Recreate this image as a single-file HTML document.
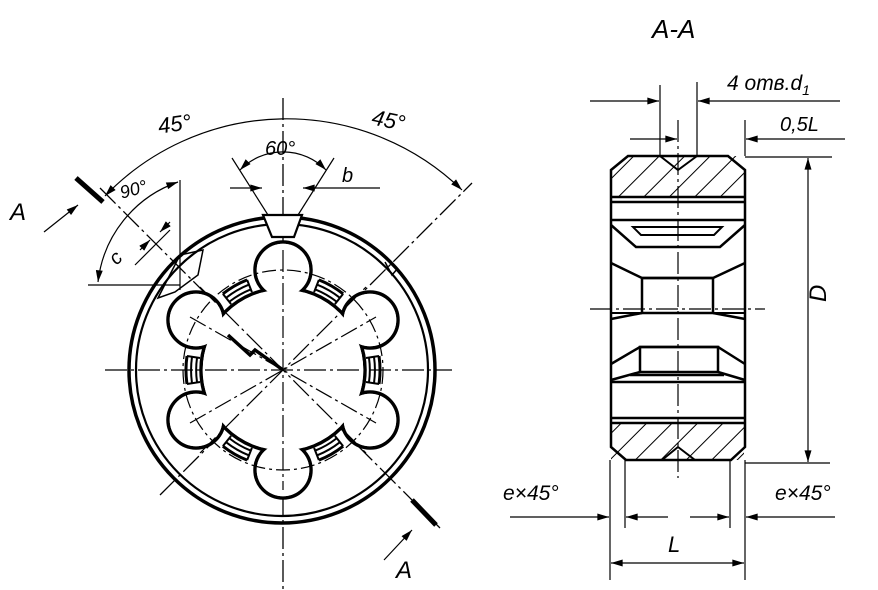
<!DOCTYPE html>
<html><head><meta charset="utf-8"><style>
html,body{margin:0;padding:0;background:#fff;}
svg{display:block;}
text{font-family:"Liberation Sans",sans-serif;font-style:italic;fill:#000;}
</style></head><body>
<svg width="878" height="590" viewBox="0 0 878 590" xmlns="http://www.w3.org/2000/svg">
<defs>
<marker id="ar" viewBox="0 0 10 6" refX="10" refY="3" markerWidth="12" markerHeight="7" orient="auto-start-reverse" markerUnits="userSpaceOnUse"><path d="M0,0L10,3L0,6z" fill="#000"/></marker>
<pattern id="h" patternUnits="userSpaceOnUse" width="18" height="18" patternTransform="rotate(45)"><line x1="0" y1="0" x2="0" y2="18" stroke="#000" stroke-width="2"/></pattern>
</defs>
<g stroke="#000" fill="none" stroke-width="1.3">
<line x1="283" y1="98" x2="283" y2="590" stroke-dasharray="22,4,3,4"/>
<line x1="105" y1="370" x2="452" y2="370" stroke-dasharray="22,4,3,4"/>
<line x1="100" y1="188" x2="440" y2="528" stroke-dasharray="22,4,3,4"/>
<line x1="160" y1="495" x2="472" y2="183" stroke-dasharray="22,4,3,4"/>
<circle cx="282" cy="370" r="153" stroke-width="3.5"/>
<circle cx="282" cy="370" r="146" stroke-width="2.2"/>
</g>
<!-- grooves (behind) -->
<g stroke="#000" fill="none" stroke-width="2">
<g id="gr"><path d="M197,358 A86,86 0 0 0 197,382"/><path d="M192,357 A91,91 0 0 0 192,383"/><path d="M187,356 A96,96 0 0 0 187,384" stroke-width="3"/><line x1="187" y1="356" x2="200" y2="358"/><line x1="187" y1="384" x2="200" y2="382"/></g>
<use href="#gr" transform="rotate(60 283 370)"/>
<use href="#gr" transform="rotate(120 283 370)"/>
<use href="#gr" transform="rotate(180 283 370)"/>
<use href="#gr" transform="rotate(240 283 370)"/>
<use href="#gr" transform="rotate(300 283 370)"/>
</g>
<g stroke="#000" stroke-width="3.5" fill="#fff">
<circle cx="283" cy="370" r="82"/>
<circle cx="283" cy="270" r="28"/><circle cx="283" cy="470" r="28"/>
<circle cx="196" cy="320" r="28"/><circle cx="370" cy="320" r="28"/>
<circle cx="196" cy="420" r="28"/><circle cx="370" cy="420" r="28"/>
</g>
<g fill="#fff" stroke="none">
<circle cx="283" cy="370" r="80.3"/>
<circle cx="283" cy="270" r="26.3"/><circle cx="283" cy="470" r="26.3"/>
<circle cx="196" cy="320" r="26.3"/><circle cx="370" cy="320" r="26.3"/>
<circle cx="196" cy="420" r="26.3"/><circle cx="370" cy="420" r="26.3"/>
</g>
<g stroke="#000" fill="none" stroke-width="1.2">
<circle cx="283" cy="370" r="100" stroke-dasharray="14,4,3,4"/>
<line x1="283" y1="250" x2="283" y2="490" stroke-dasharray="22,4,3,4"/>
<line x1="205" y1="370" x2="362" y2="370" stroke-dasharray="22,4,3,4"/>
<line x1="190" y1="317" x2="376" y2="423" stroke-dasharray="18,4,3,4"/>
<line x1="190" y1="423" x2="376" y2="317" stroke-dasharray="18,4,3,4"/>
<line x1="200" y1="287" x2="366" y2="453" stroke-dasharray="22,4,3,4"/>
<line x1="200" y1="453" x2="366" y2="287" stroke-dasharray="22,4,3,4"/>
</g>
<path d="M228,335 L250,355 L255,350 L283,370" stroke="#000" stroke-width="3.5" fill="none"/>
<path d="M263,215 L302,215 L294,237 L272,237 Z" fill="#fff" stroke="#000" stroke-width="2.2"/>
<path d="M158,298 L180,255 L203,250 L198,275 L175,292 Z" fill="none" stroke="#000" stroke-width="1.5"/>
<path d="M385,262 L392,275 L398,268" fill="none" stroke="#000" stroke-width="1.5"/>
<g stroke="#000" fill="none" stroke-width="1.2">
<path d="M105,196 A252,252 0 0 1 462,190" marker-start="url(#ar)" marker-end="url(#ar)"/>
<line x1="268" y1="215" x2="232" y2="158"/>
<line x1="298" y1="215" x2="334" y2="158"/>
<path d="M240,170 A60,60 0 0 1 326,170" marker-start="url(#ar)" marker-end="url(#ar)"/>
<line x1="230" y1="188" x2="262" y2="188" marker-end="url(#ar)"/>
<line x1="380" y1="188" x2="303" y2="188" marker-end="url(#ar)"/>
<line x1="180" y1="180" x2="180" y2="290"/>
<line x1="88" y1="285" x2="180" y2="285"/>
<path d="M98,282 A120,120 0 0 1 178,182" marker-start="url(#ar)" marker-end="url(#ar)"/>
<line x1="135" y1="265" x2="170" y2="230"/>
<line x1="140" y1="250" x2="150" y2="240" marker-end="url(#ar)"/>
<line x1="170" y1="222" x2="160" y2="232" marker-end="url(#ar)"/>
<line x1="44" y1="232" x2="78" y2="205" marker-end="url(#ar)"/>
<line x1="384" y1="560" x2="412" y2="530" marker-end="url(#ar)"/>
</g>
<line x1="76" y1="178" x2="103" y2="202" stroke="#000" stroke-width="5"/>
<line x1="412" y1="500" x2="436" y2="525" stroke="#000" stroke-width="5"/>
<text x="10" y="220" font-size="24">A</text>
<text x="396" y="578" font-size="24">A</text>
<text x="158" y="132" font-size="22" transform="rotate(-8 170 125)">45°</text>
<text x="372" y="128" font-size="22" transform="rotate(12 390 120)">45°</text>
<text x="265" y="155" font-size="20">60°</text>
<text x="342" y="182" font-size="20">b</text>
<text x="120" y="195" font-size="18" transform="rotate(-15 135 190)">90°</text>
<text x="110" y="262" font-size="20" transform="rotate(-45 118 256)">c</text>

<!-- RIGHT VIEW -->
<rect x="611" y="156" width="133" height="41" fill="url(#h)"/>
<rect x="611" y="423" width="133" height="37" fill="url(#h)"/>
<g stroke="#000" fill="none" stroke-width="2.5">
<path d="M628,156 L728,156 L745,170 L745,447 L731,460 L626,460 L611,447 L611,170 Z"/>
<line x1="611" y1="197" x2="745" y2="197"/>
<line x1="611" y1="202" x2="745" y2="202"/>
<path d="M611,220 L745,220"/>
<path d="M633,227 L722,227 L714,235 L641,235 Z" stroke-width="2"/>
<path d="M611,225 L636,247 L720,247 L745,225"/>
<path d="M611,263 L642,278 L713,278 L745,263"/>
<rect x="642" y="278" width="71" height="35"/>
<path d="M611,319 L642,313 M713,313 L745,319"/>
<line x1="611" y1="313" x2="745" y2="313" stroke-width="2"/>
<path d="M611,364 L640,347 L718,347 L745,364"/>
<rect x="640" y="347" width="78" height="25"/>
<path d="M611,380 L640,372 M718,372 L745,380"/>
<path d="M630,375 L724,375"/>
<line x1="611" y1="382" x2="745" y2="382"/>
<line x1="611" y1="418" x2="745" y2="418"/>
<line x1="611" y1="423" x2="745" y2="423"/>
<path d="M660,156 L678,170 L697,156" stroke-width="2"/>
<path d="M662,460 L678,447 L695,460" stroke-width="2"/>
</g>
<g stroke="#000" fill="none" stroke-width="1.2">
<line x1="678" y1="120" x2="678" y2="478" stroke-dasharray="22,4,3,4"/>
<line x1="590" y1="309" x2="765" y2="309" stroke-dasharray="22,4,3,4"/>
<line x1="660" y1="85" x2="660" y2="156"/>
<line x1="697" y1="82" x2="697" y2="156"/>
<line x1="745" y1="120" x2="745" y2="156"/>
<line x1="590" y1="101" x2="659" y2="101" marker-end="url(#ar)"/>
<line x1="840" y1="101" x2="698" y2="101" marker-end="url(#ar)"/>
<line x1="630" y1="139" x2="677" y2="139" marker-end="url(#ar)"/>
<line x1="845" y1="139" x2="746" y2="139" marker-end="url(#ar)"/>
<line x1="745" y1="157" x2="832" y2="157"/>
<line x1="745" y1="463" x2="830" y2="463"/>
<line x1="808" y1="158" x2="808" y2="462" marker-start="url(#ar)" marker-end="url(#ar)"/>
<line x1="610" y1="460" x2="610" y2="580"/>
<line x1="745" y1="460" x2="745" y2="580"/>
<line x1="625" y1="460" x2="625" y2="528"/>
<line x1="730" y1="460" x2="730" y2="528"/>
<line x1="510" y1="517" x2="609" y2="517" marker-end="url(#ar)"/>
<line x1="668" y1="517" x2="626" y2="517" marker-end="url(#ar)"/>
<line x1="690" y1="517" x2="729" y2="517" marker-end="url(#ar)"/>
<line x1="835" y1="517" x2="746" y2="517" marker-end="url(#ar)"/>
<line x1="611" y1="563" x2="744" y2="563" marker-start="url(#ar)" marker-end="url(#ar)"/>
</g>
<text x="652" y="38" font-size="26">A-A</text>
<text x="727" y="90" font-size="21">4 отв.d<tspan font-size="14" dy="5">1</tspan></text>
<text x="780" y="131" font-size="20">0,5L</text>
<text x="826" y="318" font-size="24" transform="rotate(-90 818 310)">D</text>
<text x="503" y="500" font-size="21">e×45°</text>
<text x="775" y="500" font-size="21">e×45°</text>
<text x="668" y="552" font-size="22">L</text>
</svg>
</body></html>
